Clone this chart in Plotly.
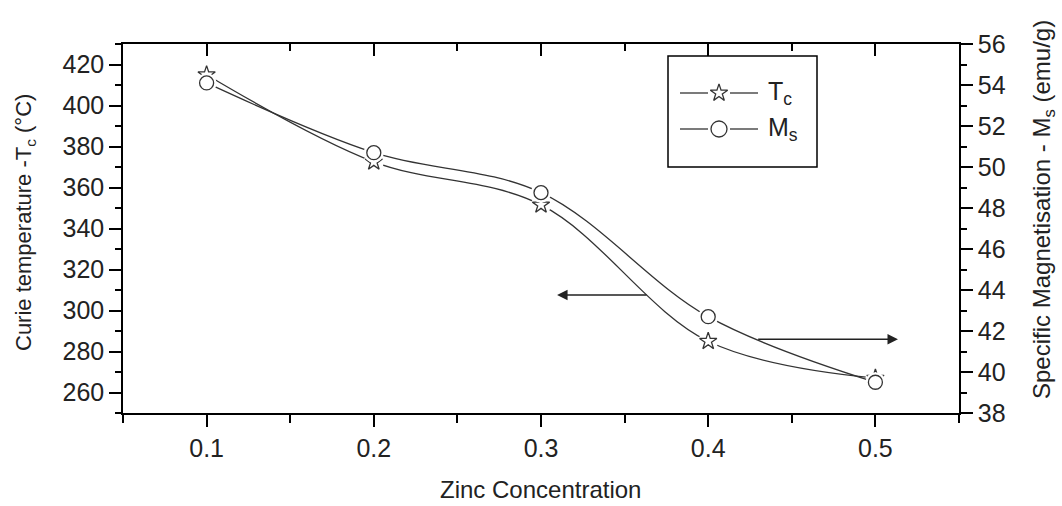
import plotly.graph_objects as go

zinc = [0.1, 0.2, 0.3, 0.4, 0.5]
curie_tc = [415, 372.5, 351.5, 285, 267]
mag_ms = [54.1, 50.7, 48.75, 42.7, 39.5]

x_ticks = [0.1, 0.2, 0.3, 0.4, 0.5]
x_ticklabels = ["0.1", "0.2", "0.3", "0.4", "0.5"]

legend_names = ["T<sub>c</sub>", "M<sub>s</sub>"]
legend_symbols = ["star-open", "circle-open"]

FONT = "Liberation Sans, Arial, sans-serif"
TXT = "#222222"
LINE = "#333333"
LW = 1.3

fig = go.Figure()

# curves
fig.add_trace(go.Scatter(x=zinc, y=curie_tc, mode="lines", line=dict(shape="spline", color=LINE, width=LW),
                         showlegend=False, hoverinfo="skip", yaxis="y"))
fig.add_trace(go.Scatter(x=zinc, y=mag_ms, mode="lines", line=dict(shape="spline", color=LINE, width=LW),
                         showlegend=False, hoverinfo="skip", yaxis="y2"))
# white halos -> gaps around markers
fig.add_trace(go.Scatter(x=zinc, y=curie_tc, mode="markers", marker=dict(symbol="circle", size=20, color="white", line=dict(width=0)),
                         showlegend=False, hoverinfo="skip", yaxis="y"))
fig.add_trace(go.Scatter(x=zinc, y=mag_ms, mode="markers", marker=dict(symbol="circle", size=20, color="white", line=dict(width=0)),
                         showlegend=False, hoverinfo="skip", yaxis="y2"))
# markers
fig.add_trace(go.Scatter(x=zinc, y=curie_tc, mode="markers", name="T<sub>c</sub>",
                         marker=dict(symbol="star-open", size=13, color=LINE, line=dict(width=LW)),
                         yaxis="y", showlegend=False))
fig.add_trace(go.Scatter(x=zinc, y=mag_ms, mode="markers", name="M<sub>s</sub>",
                         marker=dict(symbol="circle-open", size=14, color=LINE, line=dict(width=LW)),
                         yaxis="y2", showlegend=False))
# dummy trace for top axis
fig.add_trace(go.Scatter(x=[None], y=[None], xaxis="x2", yaxis="y", showlegend=False, hoverinfo="skip"))

# custom legend on an overlay axis measured in pixels of the plot area
LEG_X0, LEG_X1, LEG_Y0, LEG_Y1 = 545, 694, 12, 123
rows_y = [49, 85]
line_x0, line_x1, mark_x, text_x = 557, 635, 596, 643
shapes = [dict(type="rect", xref="x3", yref="y3", x0=LEG_X0, x1=LEG_X1, y0=LEG_Y0, y1=LEG_Y1,
               line=dict(color="black", width=1.5), fillcolor="white", layer="below")]
annotations = []
for name, sym, ry in zip(legend_names, legend_symbols, rows_y):
    shapes.append(dict(type="line", xref="x3", yref="y3", x0=line_x0, x1=mark_x - 11, y0=ry, y1=ry,
                       line=dict(color=LINE, width=LW)))
    shapes.append(dict(type="line", xref="x3", yref="y3", x0=mark_x + 11, x1=line_x1, y0=ry, y1=ry,
                       line=dict(color=LINE, width=LW)))
    fig.add_trace(go.Scatter(x=[mark_x], y=[ry], mode="markers", xaxis="x3", yaxis="y3",
                             marker=dict(symbol=sym, size=13 if sym.startswith("star") else 16, color=LINE,
                                         line=dict(width=LW)),
                             showlegend=False, hoverinfo="skip"))
    annotations.append(dict(x=text_x, y=ry, xref="x3", yref="y3", text=name, showarrow=False,
                            xanchor="left", yanchor="middle", font=dict(family=FONT, size=25, color=TXT)))

annotations += [
    dict(x=0.3096, y=307.6, ax=0.364, ay=307.6, xref="x", yref="y", axref="x", ayref="y",
         showarrow=True, arrowhead=2, arrowsize=1.4, arrowwidth=1.5, arrowcolor="#222", text=""),
    dict(x=0.5135, y=286, ax=0.429, ay=286, xref="x", yref="y", axref="x", ayref="y",
         showarrow=True, arrowhead=2, arrowsize=1.4, arrowwidth=1.5, arrowcolor="#222", text=""),
    dict(text="Curie temperature -T<sub>c</sub> (°C)", textangle=-90, xref="paper", yref="paper",
         x=(25 - 123) / 836, y=(413 - 223) / 369, xanchor="center", yanchor="middle", showarrow=False,
         font=dict(family=FONT, size=22, color=TXT)),
    dict(text="Specific Magnetisation - M<sub>s</sub> (emu/g)", textangle=-90, xref="paper", yref="paper",
         x=(1043 - 123) / 836, y=(413 - 210) / 369, xanchor="center", yanchor="middle", showarrow=False,
         font=dict(family=FONT, size=24, color=TXT)),
    dict(text="Zinc Concentration", xref="paper", yref="paper",
         x=(540 - 123) / 836, y=(413 - 490) / 369, xanchor="center", yanchor="middle", showarrow=False,
         font=dict(family=FONT, size=24, color=TXT)),
]

axis_common = dict(showline=True, linecolor="black", linewidth=1.5, showgrid=False, zeroline=False,
                   tickcolor="black", tickwidth=1.5,
                   tickfont=dict(family=FONT, size=25, color=TXT))

fig.update_layout(
    width=1062, height=506,
    margin=dict(l=123, r=103, t=44, b=93),
    paper_bgcolor="white", plot_bgcolor="white",
    font=dict(family=FONT, size=21, color=TXT),
    showlegend=False,
    xaxis=dict(**axis_common, range=[0.05, 0.55], tickvals=x_ticks, ticktext=x_ticklabels,
               ticks="outside", ticklen=12,
               minor=dict(dtick=0.05, tick0=0.05, ticks="outside", ticklen=8, tickcolor="black", tickwidth=1.5)),
    xaxis2=dict(overlaying="x", side="top", anchor="y", range=[0.05, 0.55], tickvals=x_ticks,
                showticklabels=False, showline=True, linecolor="black", linewidth=1.5, showgrid=False,
                zeroline=False, ticks="inside", ticklen=12, tickcolor="black", tickwidth=1.5,
                minor=dict(dtick=0.05, tick0=0.05, ticks="inside", ticklen=7, tickcolor="black", tickwidth=1.5)),
    xaxis3=dict(overlaying="x", anchor="y3", range=[0, 836], visible=False, fixedrange=True),
    yaxis=dict(**axis_common, range=[250, 430], dtick=20, tick0=0, ticks="outside", ticklen=12,
               minor=dict(dtick=10, ticks="outside", ticklen=6, tickcolor="black", tickwidth=1.5)),
    yaxis2=dict(**axis_common, overlaying="y", side="right", anchor="x", range=[38, 56], dtick=2, tick0=0,
                ticks="outside", ticklen=12,
                minor=dict(dtick=1, ticks="outside", ticklen=6, tickcolor="black", tickwidth=1.5)),
    yaxis3=dict(overlaying="y", anchor="x3", range=[369, 0], visible=False, fixedrange=True),
    shapes=shapes,
    annotations=annotations,
)

fig.write_html("out.html")
